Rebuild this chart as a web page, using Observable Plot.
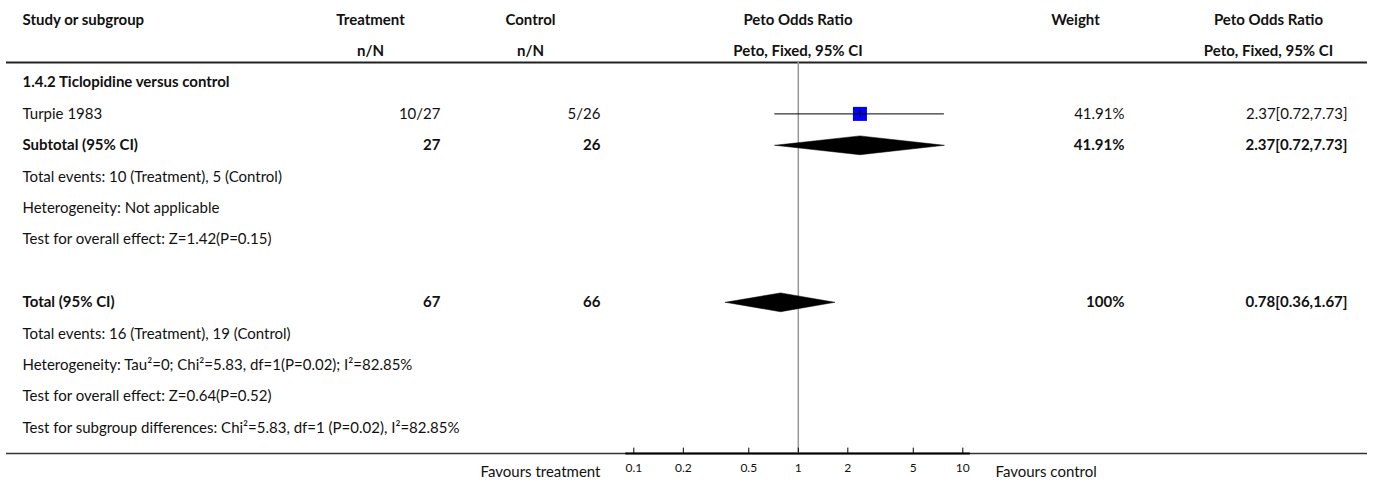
<!DOCTYPE html>
<html>
<head>
<meta charset="utf-8">
<script src="https://cdn.jsdelivr.net/npm/d3@7"></script>
<script src="https://cdn.jsdelivr.net/npm/@observablehq/plot@0.6"></script>
<style>
  html, body { margin: 0; padding: 0; background: #fff; }
  #chart svg { display: block; }
</style>
</head>
<body>
<div id="chart"></div>
<script>
// ---------------- data ----------------
const headerTop = ["Study or subgroup", "Treatment", "Control", "Peto Odds Ratio", "Weight", "Peto Odds Ratio"];
const headerSub = ["", "n/N", "n/N", "Peto, Fixed, 95% CI", "", "Peto, Fixed, 95% CI"];

const rowLabels = [
  "1.4.2 Ticlopidine versus control",
  "Turpie 1983",
  "Subtotal (95% CI)",
  "Total events: 10 (Treatment), 5 (Control)",
  "Heterogeneity: Not applicable",
  "Test for overall effect: Z=1.42(P=0.15)",
  "",
  "Total (95% CI)",
  "Total events: 16 (Treatment), 19 (Control)",
  "Heterogeneity: Tau²=0; Chi²=5.83, df=1(P=0.02); I²=82.85%",
  "Test for overall effect: Z=0.64(P=0.52)",
  "Test for subgroup differences: Chi²=5.83, df=1 (P=0.02), I²=82.85%"
];
const rowBold = [true, false, true, false, false, false, false, true, false, false, false, false];
const treatmentCol = ["", "10/27", "27", "", "", "", "", "67", "", "", "", ""];
const controlCol   = ["", "5/26", "26", "", "", "", "", "66", "", "", "", ""];
const weightCol    = ["", "41.91%", "41.91%", "", "", "", "", "100%", "", "", "", ""];
const ciCol        = ["", "2.37[0.72,7.73]", "2.37[0.72,7.73]", "", "", "", "", "0.78[0.36,1.67]", "", "", "", ""];

// study squares
const studyNames = ["Turpie 1983"];
const studyOR = [2.37];
const studyLo = [0.72];
const studyHi = [7.73];
const studyWeight = [41.91];

// pooled diamonds
const diamondNames = ["Subtotal (95% CI)", "Total (95% CI)"];
const diamondOR = [2.37, 0.78];
const diamondLo = [0.72, 0.36];
const diamondHi = [7.73, 1.67];

const axisTicks = [0.1, 0.2, 0.5, 1, 2, 5, 10];
const favourLeft = "Favours treatment";
const favourRight = "Favours control";

// ---------------- layout ----------------
const FONT = "Lato, 'Noto Sans', sans-serif";
const FS = 15;
const INK = "#111";
const firstDataRow = 2;              // rows 0,1 are header lines
const rowOf = name => firstDataRow + rowLabels.indexOf(name);

const rows = rowLabels.map((label, i) => ({
  row: firstDataRow + i, label, bold: rowBold[i],
  trt: treatmentCol[i], ctl: controlCol[i], w: weightCol[i], ci: ciCol[i]
}));
const headers = [0, 1].flatMap(r => (r === 0 ? headerTop : headerSub).map((t, c) => ({row: r, col: c, t})));

const studies = studyNames.map((n, i) => ({row: rowOf(n), or: studyOR[i], lo: studyLo[i], hi: studyHi[i], w: studyWeight[i]}));
const diamondPts = diamondNames.flatMap((n, i) => {
  const r = rowOf(n), h = 0.3;
  return [
    {id: n, x: diamondLo[i], y: r},
    {id: n, x: diamondOR[i], y: r - h},
    {id: n, x: diamondHi[i], y: r},
    {id: n, x: diamondOR[i], y: r + h},
    {id: n, x: diamondLo[i], y: r}
  ];
});

const headLineY = 1.363;
const axisLineY = 13.815;
const tickLabelY = 14.29;
const favourY = 14.4;

// column anchors in pixels (frame left = 0)
const colX = {
  studyLeft: 22,
  trtCenter: 370, trtRight: 440,
  ctlCenter: 530, ctlRight: 600,
  forestCenter: 797.5,
  wCenter: 1075, wRight: 1124,
  ciCenter: 1268, ciRight: 1347
};
const headerAnchor = [
  {dx: colX.studyLeft, anchor: "start"},
  {dx: colX.trtCenter, anchor: "middle"},
  {dx: colX.ctlCenter, anchor: "middle"},
  {dx: colX.forestCenter, anchor: "middle"},
  {dx: colX.wCenter, anchor: "middle"},
  {dx: colX.ciCenter, anchor: "middle"}
];

// a text column, split into bold / normal marks
const textCol = (field, dx, anchor) => [true, false].map(b => Plot.text(rows.filter(d => d[field] !== "" && d.bold === b), {
  y: "row", text: field, frameAnchor: "left", dx, textAnchor: anchor,
  fontFamily: FONT, fontSize: FS, fill: INK, fontWeight: b ? "bold" : "normal"
}));

const marks = [
  // header texts
  ...headerAnchor.map((h, c) => Plot.text(headers.filter(d => d.col === c && d.t !== ""), {
    y: "row", text: "t", frameAnchor: "left", dx: h.dx, textAnchor: h.anchor,
    fontFamily: FONT, fontSize: FS, fontWeight: "bold", fill: INK
  })),
  // header rule
  Plot.ruleY([headLineY], {insetLeft: 6, insetRight: 8, stroke: "#222", strokeWidth: 2}),
  // bottom rule (full) and axis segment
  Plot.ruleY([axisLineY], {insetLeft: 6, insetRight: 8, stroke: "#333", strokeWidth: 1.6}),
  Plot.ruleY([axisLineY], {x1: () => 0.0895, x2: () => 11.1, stroke: "#000", strokeWidth: 2}),
  // reference line at OR = 1
  Plot.ruleX([1], {y1: () => headLineY, y2: () => axisLineY, stroke: "#999", strokeWidth: 1.5}),
  // axis ticks
  Plot.ruleX(axisTicks, {x: d => d, y1: () => axisLineY - 0.17, y2: () => axisLineY, stroke: "#000", strokeWidth: 1}),
  Plot.text(axisTicks, {x: d => d, y: () => tickLabelY, text: d => String(d), fontFamily: FONT, fontSize: 12, fill: INK}),
  Plot.text([favourLeft], {y: () => favourY, text: d => d, frameAnchor: "left", dx: 600, textAnchor: "end", fontFamily: FONT, fontSize: FS, fill: INK}),
  Plot.text([favourRight], {y: () => favourY, text: d => d, frameAnchor: "left", dx: 995, textAnchor: "start", fontFamily: FONT, fontSize: FS, fill: INK}),
  // row texts
  ...textCol("label", colX.studyLeft, "start"),
  ...textCol("trt", colX.trtRight, "end"),
  ...textCol("ctl", colX.ctlRight, "end"),
  ...textCol("w", colX.wRight, "end"),
  ...textCol("ci", colX.ciRight, "end"),
  // study squares and CIs
  Plot.dot(studies, {x: "or", y: "row", r: "w", symbol: "square", fill: "#0000ff", stroke: null}),
  Plot.ruleY(studies, {y: "row", x1: "lo", x2: "hi", stroke: "#000", strokeWidth: 1}),
  Plot.ruleX(studies, {x: "or", y1: d => d.row - 0.13, y2: d => d.row + 0.13, stroke: "#000", strokeWidth: 1}),
  // diamonds
  Plot.line(diamondPts, {x: "x", y: "y", z: "id", fill: "#000", stroke: "#000", strokeWidth: 0.5, curve: "linear"})
];

const chart = Plot.plot({
  width: 1375,
  height: 484,
  margin: 0,
  x: {type: "log", domain: [0.1, 10], range: [633.3, 962.3], axis: null},
  y: {domain: [0, 13], range: [19.2, 427.4], axis: null},
  r: {type: "sqrt", domain: [0, 100], range: [0, 12.2]},
  style: {fontFamily: FONT, background: "#fff", color: INK},
  marks
});
document.getElementById("chart").appendChild(chart);
</script>
</body>
</html>
